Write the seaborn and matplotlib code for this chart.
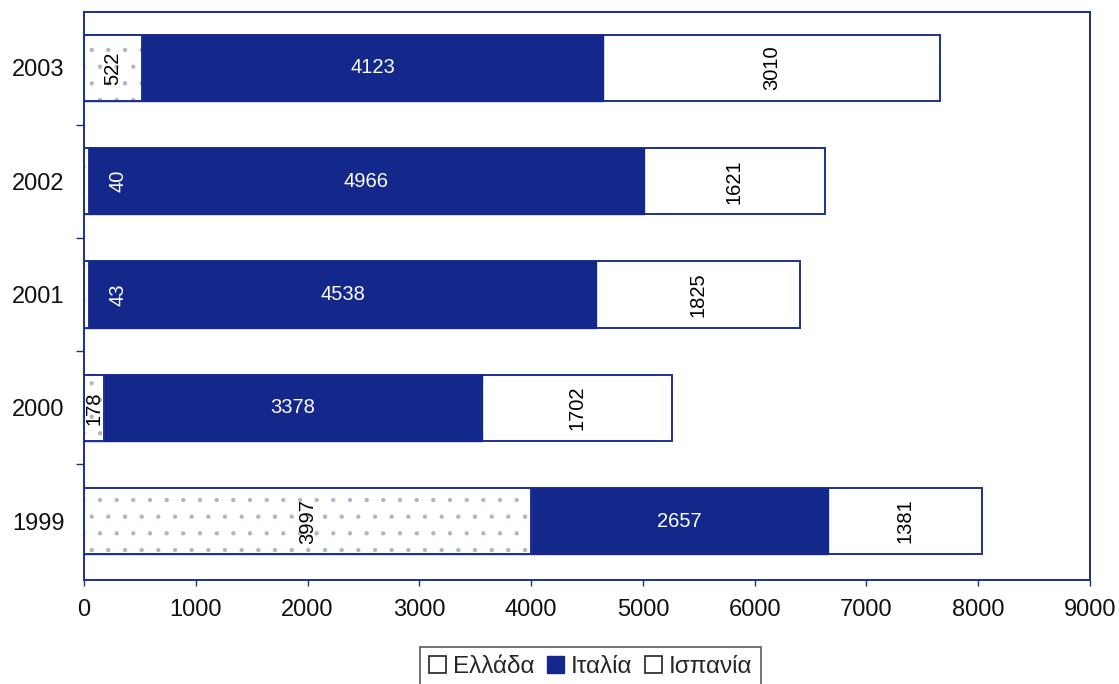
import matplotlib
matplotlib.use("Agg")
import matplotlib.pyplot as plt
import seaborn as sns
import pandas as pd
import numpy as np
from matplotlib.patches import Patch

# Data: exports per year and country
years = ["2003", "2002", "2001", "2000", "1999"]
greece = [522, 40, 43, 178, 3997]
italy = [4123, 4966, 4538, 3378, 2657]
spain = [3010, 1621, 1825, 1702, 1381]
series_names = ["Ελλάδα", "Ιταλία", "Ισπανία"]
x_ticks = [0, 1000, 2000, 3000, 4000, 5000, 6000, 7000, 8000, 9000]

NAVY = "#14288c"
EDGE = "#1b2f96"

sns.set_theme(style="white")
plt.rcParams["font.family"] = ["Liberation Sans", "DejaVu Sans"]
plt.rcParams["hatch.linewidth"] = 0.7

df = pd.DataFrame({"year": years, "greece": greece, "italy": italy, "spain": spain})
df["g_i"] = df["greece"] + df["italy"]
df["total"] = df["g_i"] + df["spain"]

fig = plt.figure(figsize=(11.19, 6.84), dpi=100)
ax = fig.add_axes([0.0751, 0.152, 0.8990, 0.8305])

bar_w = 0.585
common = dict(data=df, y="year", order=years, orient="h", ax=ax, width=bar_w, saturation=1)
# Layered cumulative bars: total (Spain segment visible), Greece+Italy, Greece
sns.barplot(x="total", color="white", edgecolor=EDGE, linewidth=1.4, **common)
sns.barplot(x="g_i", color=NAVY, edgecolor=NAVY, linewidth=1.0, **common)
# Greece: light speckled fill, then a navy outline on top
sns.barplot(x="greece", color="white", edgecolor="#b4b4c8", linewidth=0, hatch=".", **common)
sns.barplot(x="greece", fill=False, color=EDGE, linewidth=1.4, **common)

# Segment value labels
for i, row in df.iterrows():
    g, it, sp = row["greece"], row["italy"], row["spain"]
    small = g < 100
    gx = max(g / 2, 300) if small else g / 2
    ax.text(gx, i, f"{g}", rotation=90, ha="center", va="center",
            fontsize=14.5, color="white" if small else "black")
    ax.text(g + it / 2, i, f"{it}", ha="center", va="center",
            fontsize=14.5, color="white")
    ax.text(g + it + sp / 2, i, f"{sp}", rotation=90, ha="center", va="center",
            fontsize=14.5, color="black")

ax.set_xlim(0, 9000)
ax.set_ylim(4.52, -0.494)
ax.set_xticks(x_ticks)
ax.set_xticklabels([str(t) for t in x_ticks])
ax.set_xlabel("")
ax.set_ylabel("")

ax.set_yticks(range(len(years)), minor=False)
ax.set_yticks(np.arange(0.5, len(years) - 0.5, 1.0), minor=True)
ax.tick_params(axis="y", which="major", length=0, pad=14, labelsize=17, labelcolor="#111111")
ax.tick_params(axis="y", which="minor", left=True, length=6, width=1.0, color=EDGE)
ax.tick_params(axis="x", which="major", bottom=True, length=4, width=1.0, color=EDGE,
               pad=10, labelsize=17, labelcolor="#111111")

for side, sp in ax.spines.items():
    sp.set_visible(True)
    sp.set_color(EDGE)
    sp.set_linewidth(1.4)
ax.spines["right"].set_color("#2a2f5a")

handles = [Patch(facecolor="white", edgecolor="#222222", linewidth=1.2),
           Patch(facecolor=NAVY, edgecolor=NAVY),
           Patch(facecolor="white", edgecolor="#222222", linewidth=1.2)]
leg = fig.legend(handles, series_names, loc="upper center", bbox_to_anchor=(0.528, 0.054),
                 ncol=3, frameon=True, fontsize=17.5, handlelength=0.7, handleheight=0.7,
                 handletextpad=0.3, columnspacing=0.5, borderpad=0.35, borderaxespad=0,
                 fancybox=False)
leg.get_frame().set_edgecolor("#333333")
leg.get_frame().set_linewidth(1.2)

fig.savefig("out.png", dpi=100)
